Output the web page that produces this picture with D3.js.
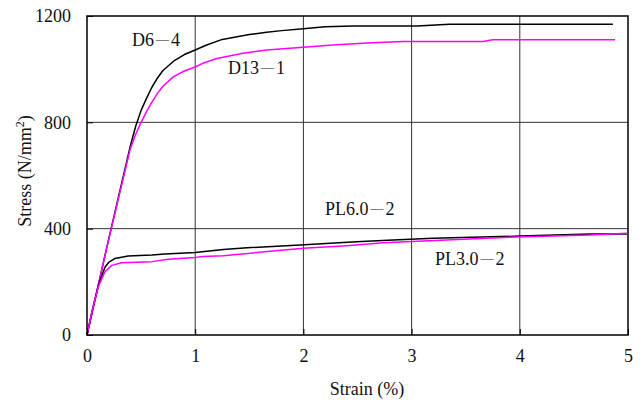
<!DOCTYPE html>
<html><head><meta charset="utf-8">
<script src="https://cdn.jsdelivr.net/npm/d3@7"></script>
<style>body{margin:0;background:#fff}svg{display:block}text{font-family:"Liberation Serif","Times New Roman",serif;fill:#111}</style>
</head><body><svg id="c" width="644" height="403"></svg>
<script>
const xTicks=[0,1,2,3,4,5];
const yTicks=[0,400,800,1200];
const seriesNames=[["D6","4"],["D13","1"],["PL6.0","2"],["PL3.0","2"]];
const d64=[[0,0],[0.05,90],[0.1,180],[0.2,360],[0.3,535],[0.4,710],[0.45,785],[0.5,845],[0.55,890],[0.6,932],[0.65,966],[0.7,994],[0.8,1030],[0.9,1055],[1.0,1072],[1.1,1090],[1.25,1112],[1.5,1130],[1.66,1139],[1.8,1145],[2.0,1152],[2.2,1160],[2.46,1162],[3.05,1162],[3.35,1169],[4.86,1169]];
const d131=[[0,0],[0.05,90],[0.1,180],[0.2,358],[0.3,530],[0.4,700],[0.45,755],[0.5,800],[0.55,840],[0.6,876],[0.65,908],[0.7,935],[0.8,972],[0.9,993],[1.0,1008],[1.07,1022],[1.2,1040],[1.44,1060],[1.66,1072],[2.0,1082],[2.27,1091],[2.59,1098],[2.92,1104],[3.66,1104],[3.75,1111],[4.88,1111]];
const pl60=[[0,0],[0.05,95],[0.105,185],[0.136,222],[0.166,255],[0.2,273],[0.259,288],[0.38,297],[0.6,301],[0.72,305],[1.0,310],[1.26,322],[1.48,328],[1.97,339],[2.49,351],[2.83,357],[3.2,364],[4.0,372],[4.65,380],[4.99,380]];
const pl30=[[0,0],[0.05,95],[0.105,182],[0.166,238],[0.228,262],[0.32,272],[0.6,276],[0.75,285],[1.0,292],[1.07,295],[1.26,298],[1.72,316],[2.0,326],[2.4,336],[2.74,347],[3.11,354],[3.97,369],[4.65,376],[4.99,383]];

const svg=d3.select("#c");
const L=87,R=628,T=16,B=335;
const x=d3.scaleLinear().domain([0,5]).range([L,R]);
const y=d3.scaleLinear().domain([0,1200]).range([B,T]);

const g=svg.append("g");
g.selectAll("line.v").data(xTicks.slice(1,-1)).join("line")
 .attr("x1",d=>x(d)).attr("x2",d=>x(d)).attr("y1",T).attr("y2",B).attr("stroke","#333").attr("stroke-width",1);
g.selectAll("line.h").data(yTicks.slice(1,-1)).join("line")
 .attr("y1",d=>y(d)).attr("y2",d=>y(d)).attr("x1",L).attr("x2",R).attr("stroke","#333").attr("stroke-width",1);

const line=d3.line().x(d=>x(d[0])).y(d=>y(d[1]));
const data=[[d64,"#000"],[d131,"#ff00ff"],[pl60,"#000"],[pl30,"#ff00ff"]];
svg.selectAll("path.s").data(data).join("path").attr("fill","none")
 .attr("stroke",d=>d[1]).attr("stroke-width",1.5).attr("stroke-linejoin","round").attr("d",d=>line(d[0]));

svg.append("rect").attr("x",L).attr("y",T).attr("width",R-L).attr("height",B-T)
 .attr("fill","none").attr("stroke","#000").attr("stroke-width",1.5);

const ya=d3.axisLeft(y).tickValues(yTicks).tickSize(-6).tickPadding(16).tickFormat(d3.format("d"));
const yg=svg.append("g").attr("transform",`translate(${L},0)`).call(ya);
const xa=d3.axisBottom(x).tickValues(xTicks).tickSize(-6).tickPadding(14).tickFormat(d3.format("d"));
const xg=svg.append("g").attr("transform",`translate(0,${B})`).call(xa);
[yg,xg].forEach(a=>{a.select(".domain").remove();a.selectAll(".tick line").attr("stroke","#000");
 a.selectAll("text").style("font-size","18px").style("font-family","Liberation Serif").style("fill","#111");});

svg.append("text").attr("x",367).attr("y",395).attr("text-anchor","middle").style("font-size","18px").text("Strain (%)");
const yl=svg.append("text").attr("transform","translate(31,171) rotate(-90)").attr("text-anchor","middle").style("font-size","18px");
yl.append("tspan").text("Stress (N/mm");
yl.append("tspan").attr("dy",-7).style("font-size","12px").text("2");
yl.append("tspan").attr("dy",7).text(")");

const labs=[[0,132,46],[1,228,74],[2,325,215],[3,435,265]];
const lt=svg.selectAll("text.lab").data(labs).join("text").attr("class","lab")
 .attr("x",d=>d[1]).attr("y",d=>d[2]).style("font-size","18px");
lt.append("tspan").text(d=>seriesNames[d[0]][0]);
lt.append("tspan").attr("dx",2).attr("dy",-3).style("font-size","13px").text("\u2014");
lt.append("tspan").attr("dx",2).attr("dy",3).text(d=>seriesNames[d[0]][1]);
</script></body></html>
